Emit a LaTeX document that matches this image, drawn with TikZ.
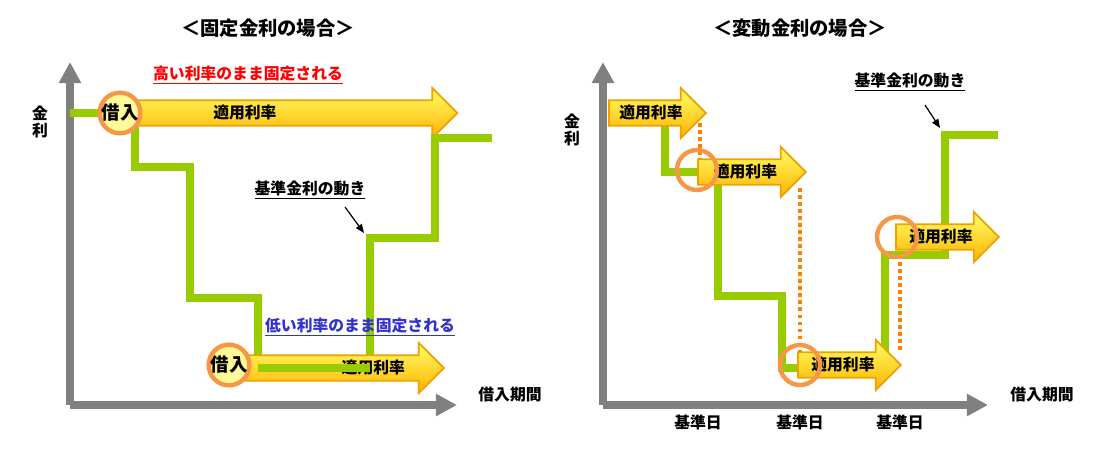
\documentclass[tikz,border=0pt]{standalone}
\usepackage{fontspec}
\setmainfont{Noto Sans CJK JP}
\usetikzlibrary{shapes.arrows, arrows.meta, positioning, calc}

\definecolor{rategreen}{RGB}{153,204,0}
\definecolor{axisgray}{RGB}{128,128,128}
\definecolor{ringorange}{RGB}{247,150,70}
\definecolor{arrowedge}{RGB}{240,160,0}
\definecolor{lowblue}{RGB}{51,51,204}

\tikzset{
  axis/.style={draw=axisgray, line width=8*0.02cm, -{Triangle[length=12pt,width=12pt]}},
  rate/.style={draw=rategreen, line width=8*0.02cm},
  ratearrow/.style={single arrow, draw=arrowedge, line width=1pt,
     top color=white!40!yellow, bottom color=orange!60!yellow,
     single arrow head extend=7pt, inner ysep=2.5pt, font=\bfseries\fontsize{9}{10}\selectfont},
  ring/.style={circle, draw=ringorange, line width=2.5pt, minimum size=40*0.02cm, inner sep=0pt,
     font=\bfseries\fontsize{10.5}{11}\selectfont},
  dots/.style={draw=orange, line width=1.8pt, dash pattern=on 2pt off 2pt},
  lbl/.style={font=\bfseries\fontsize{9}{10}\selectfont},
  ttl/.style={font=\bfseries\fontsize{11}{12}\selectfont}
}

\begin{document}
\begin{tikzpicture}[x=0.02cm, y=-0.02cm]
  \useasboundingbox (0,0) rectangle (1113,454);

  % left: fixed rate
  \node[ttl] (title1) at (268,28) {＜固定金利の場合＞};
  \coordinate (o1) at (70,405);
  \draw[axis] (o1) -- (70,62);
  \draw[axis] (o1) -- (457,405);
  \node[lbl, align=center] (kinri1) at (40,122) {金\\利};
  \node[lbl] (kikan1) at (510,395) {借入期間};

  \node[ratearrow, minimum height=342*0.02cm, text width=260*0.02cm] (fixhigh) at (280,113) {\hspace{4em}適用利率};
  \draw[rate] (70,113) -- (135,113) -- (135,167) -- (190,167) -- (190,298) -- (258,298)
     -- (258,368) -- (370,368) -- (370,238) -- (435,238) -- (435,138) -- (492,138);
  \node[ratearrow, minimum height=225*0.02cm, text width=160*0.02cm, anchor=west] (fixlow) at (218,368) {\hfill 適用利率};
  \draw[rate] (258,368) -- (370,368);
  \node[ring, fill=white!60!yellow] (borrow1) at (120,113) {借入};
  \node[ring, fill=white!60!yellow] (borrow2) at (229,365) {借入};

  \node[lbl, red] (high) at (248,75) {\underline{高い利率のまま固定される}};
  \node[lbl, lowblue] (low) at (360,327) {\underline{低い利率のまま固定される}};
  \node[lbl] (base1) at (310,190) {\underline{基準金利の動き}};
  \draw[-{Triangle[length=5pt,width=4pt]}, line width=0.7pt] (345,207) -- (364,233);

  % right: floating rate
  \node[ttl] (title2) at (800,28) {＜変動金利の場合＞};
  \coordinate (o2) at (603,405);
  \draw[axis] (o2) -- (603,62);
  \draw[axis] (o2) -- (988,405);
  \node[lbl, align=center] (kinri2) at (572,130) {金\\利};
  \node[lbl] (kikan2) at (1042,395) {借入期間};
  \node[lbl] (day1) at (698,422) {基準日};
  \node[lbl] (day2) at (800,422) {基準日};
  \node[lbl] (day3) at (900,422) {基準日};

  \draw[rate] (608,113) -- (665,113) -- (665,172) -- (718,172) -- (718,296) -- (782,296)
     -- (782,368) -- (885,368) -- (885,255) -- (945,255) -- (945,135) -- (998,135);
  \draw[dots] (700,123) -- (700,160);
  \draw[dots] (800,188) -- (800,352);
  \draw[dots] (900,255) -- (900,352);

  \node[ratearrow, minimum height=97*0.02cm, anchor=west] (float1) at (608,113) {適用利率};
  \node[ratearrow, minimum height=108*0.02cm, anchor=west] (float2) at (697,172) {適用利率};
  \node[ratearrow, minimum height=103*0.02cm, anchor=west] (float3) at (797,365) {適用利率};
  \node[ratearrow, minimum height=103*0.02cm, anchor=west] (float4) at (895,237) {適用利率};
  \node[ring] (reset1) at (697,170) {};
  \node[ring] (reset2) at (800,365) {};
  \node[ring] (reset3) at (897,237) {};

  \node[lbl] (base2) at (910,82) {\underline{基準金利の動き}};
  \draw[-{Triangle[length=5pt,width=4pt]}, line width=0.7pt] (925,105) -- (940,128);
\end{tikzpicture}
\end{document}
